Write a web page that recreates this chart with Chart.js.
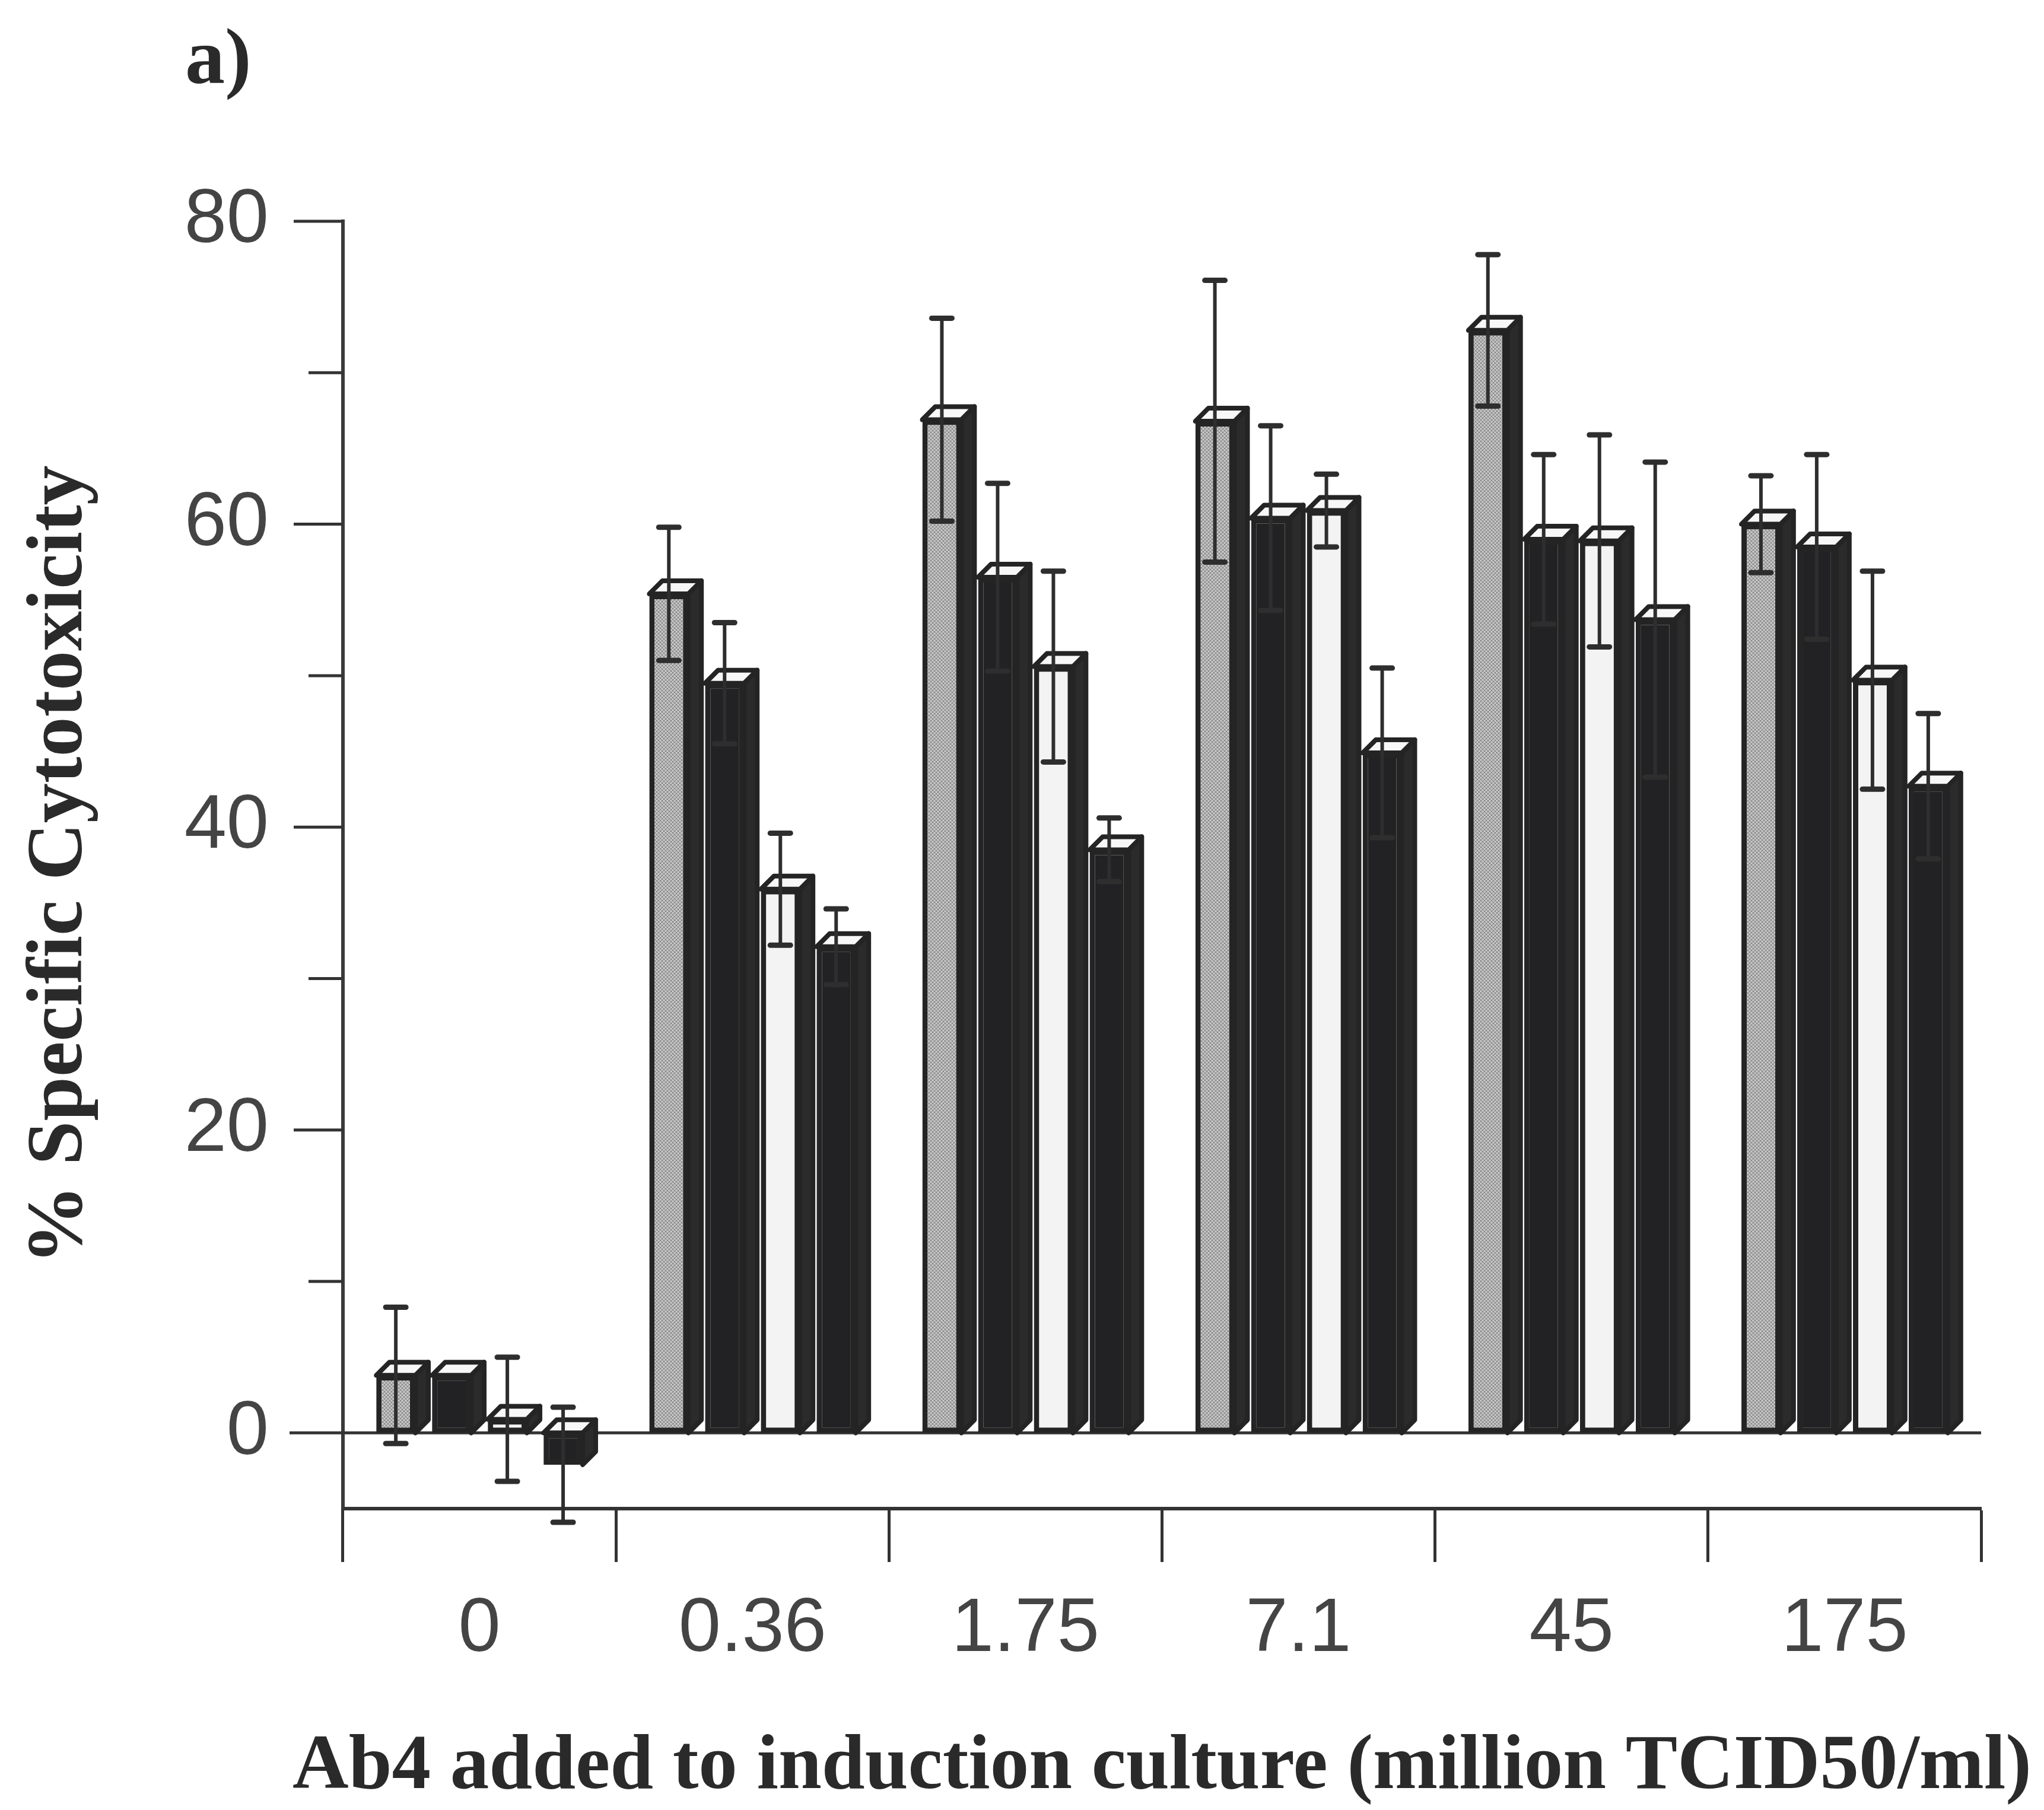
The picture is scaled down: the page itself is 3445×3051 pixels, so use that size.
<!DOCTYPE html>
<html>
<head>
<meta charset="utf-8">
<title>Specific cytotoxicity</title>
<script src="https://cdn.jsdelivr.net/npm/chart.js@4.4.0/dist/chart.umd.min.js"></script>
<style>
  html, body { margin: 0; padding: 0; background: #fff; }
  #wrap { width: 3445px; height: 3051px; position: relative; }
</style>
</head>
<body>
<div id="wrap"><canvas id="chart"></canvas></div>
<script>
// doses of Ab4 (million TCID50/ml)
const doses = ["0", "0.36", "1.75", "7.1", "45", "175"];

// % specific cytotoxicity, four effector groups per dose
const seriesA = [3.8, 55.4, 66.9, 66.8, 72.8, 60.0];
const seriesB = [3.8, 49.5, 56.5, 60.4, 59.0, 58.5];
const seriesC = [0.9, 35.9, 50.6, 60.9, 58.9, 49.7];
const seriesD = [-2.1, 32.1, 38.5, 44.9, 53.7, 42.7];

// error bar half-lengths
const errA = [4.5, 4.4, 6.7, 9.3, 5.0, 3.2];
const errB = [0, 4.0, 6.2, 6.1, 5.6, 6.1];
const errC = [4.1, 3.7, 6.3, 2.4, 7.0, 7.2];
const errD = [3.8, 2.5, 2.1, 5.6, 10.4, 4.8];

const yTickValues = [0, 10, 20, 30, 40, 50, 60, 70, 80];
const yLabelValues = [0, 20, 40, 60, 80];

const xTitle = "Ab4 added to induction culture (million TCID50/ml)";
const yTitle = "% Specific Cytotoxicity";

const INK = "#242424";
const DEPTH = 22;
const SERIF = "'Liberation Serif', 'Times New Roman', serif";

// grainy grey fill for the first series
function speckle() {
  const c = document.createElement("canvas");
  c.width = 6; c.height = 6;
  const g = c.getContext("2d");
  g.fillStyle = "#c4c4c4";
  g.fillRect(0, 0, 6, 6);
  g.fillStyle = "#808080";
  for (let i = 0; i < 6; i++) {
    g.fillRect(i, i, 1, 1);
    g.fillRect(5 - i, i, 1, 1);
  }
  return g.createPattern(c, "repeat");
}

function line(ctx, x1, y1, x2, y2) {
  ctx.beginPath();
  ctx.moveTo(x1, y1);
  ctx.lineTo(x2, y2);
  ctx.stroke();
}

// draws the bars as boxes (side + top face, then the library's own front face) and the error bars
const box3d = {
  id: "box3d",
  beforeDatasetsDraw(chart) {
    const ctx = chart.ctx;
    const ys = chart.scales.y;
    const area = chart.chartArea;
    ctx.save();

    // zero line behind the bars
    ctx.strokeStyle = "#333";
    ctx.lineWidth = 5;
    const y0 = ys.getPixelForValue(0);
    line(ctx, area.left - 90, y0, area.right, y0);

    ctx.lineJoin = "round";
    chart.data.datasets.forEach((ds, i) => {
      const meta = chart.getDatasetMeta(i);
      meta.data.forEach(bar => {
        const { x, y, base, width } = bar.getProps(["x", "y", "base", "width"], true);
        const l = x - width / 2, r = x + width / 2;
        const top = Math.min(y, base), bot = Math.max(y, base);
        ctx.lineWidth = 8;
        ctx.strokeStyle = INK;

        ctx.beginPath();
        ctx.moveTo(r, top);
        ctx.lineTo(r + DEPTH, top - DEPTH);
        ctx.lineTo(r + DEPTH, bot - DEPTH);
        ctx.lineTo(r, bot);
        ctx.closePath();
        ctx.fillStyle = "#2b2b2b";
        ctx.fill();
        ctx.stroke();

        ctx.beginPath();
        ctx.moveTo(l, top);
        ctx.lineTo(l + DEPTH, top - DEPTH);
        ctx.lineTo(r + DEPTH, top - DEPTH);
        ctx.lineTo(r, top);
        ctx.closePath();
        ctx.fillStyle = "#f7f7f7";
        ctx.fill();
        ctx.stroke();

        bar.draw(ctx);
      });
    });

    // error bars on top
    ctx.strokeStyle = "#2e2e2e";
    chart.data.datasets.forEach((ds, i) => {
      const meta = chart.getDatasetMeta(i);
      meta.data.forEach((bar, j) => {
        const e = ds.errors[j];
        if (!e) return;
        const v = ds.data[j];
        const hi = ys.getPixelForValue(v + e);
        const lo = ys.getPixelForValue(v - e);
        ctx.lineWidth = 6;
        line(ctx, bar.x, hi, bar.x, lo);
        ctx.lineWidth = 9;
        ctx.lineCap = "round";
        line(ctx, bar.x - 17, hi, bar.x + 17, hi);
        line(ctx, bar.x - 17, lo, bar.x + 17, lo);
        ctx.lineCap = "butt";
      });
    });

    ctx.restore();
    return false;
  },
  afterDraw(chart) {
    const ctx = chart.ctx;
    const ys = chart.scales.y;
    const area = chart.chartArea;
    ctx.save();
    ctx.strokeStyle = "#333";
    ctx.lineWidth = 5;
    ys.ticks.forEach(t => {
      if (t.value === 0) return;
      const py = ys.getPixelForValue(t.value);
      const len = yLabelValues.includes(t.value) ? 83 : 58;
      line(ctx, area.left - len, py, area.left, py);
    });

    ctx.fillStyle = "#2a2a2a";
    ctx.textBaseline = "alphabetic";
    ctx.font = "bold 134px " + SERIF;
    ctx.textAlign = "left";
    ctx.fillText("a)", 312, 140);

    // x title runs wider than the plot, so it is drawn here rather than by the scale
    ctx.font = "bold 131px " + SERIF;
    ctx.textAlign = "center";
    ctx.fillText(xTitle, (area.left + area.right) / 2, 3014);
    ctx.restore();
  }
};

const tickFont = { family: "'Liberation Sans', Arial, sans-serif", size: 128 };

new Chart(document.getElementById("chart"), {
  type: "bar",
  data: {
    labels: doses,
    datasets: [
      { data: seriesA, errors: errA, backgroundColor: speckle() },
      { data: seriesB, errors: errB, backgroundColor: "#222225" },
      { data: seriesC, errors: errC, backgroundColor: "#f3f3f3" },
      { data: seriesD, errors: errD, backgroundColor: "#222225" }
    ]
  },
  options: {
    responsive: true,
    maintainAspectRatio: false,
    animation: false,
    layout: { padding: { left: 0, top: 373, right: 106, bottom: 0 } },
    plugins: {
      legend: { display: false },
      tooltip: { enabled: false }
    },
    datasets: {
      bar: {
        categoryPercentage: 0.817,
        barPercentage: 0.70,
        borderWidth: 9,
        borderColor: INK,
        borderSkipped: false
      }
    },
    scales: {
      x: {
        afterFit: s => { s.height = 508; },
        grid: {
          offset: true,
          drawOnChartArea: false,
          drawTicks: true,
          tickLength: 90,
          tickWidth: 5,
          tickColor: "#333"
        },
        border: { color: "#333", width: 6 },
        ticks: { padding: 38, color: "#444", font: tickFont, maxRotation: 0, autoSkip: false }
      },
      y: {
        min: -5,
        max: 80,
        afterFit: s => { s.width = 578; },
        afterBuildTicks: s => { s.ticks = yTickValues.map(v => ({ value: v })); },
        grid: { display: false, drawTicks: false },
        border: { color: "#3a3a3a", width: 6 },
        ticks: {
          padding: 125,
          color: "#444",
          font: tickFont,
          callback: v => (yLabelValues.includes(v) ? String(v) : "")
        },
        title: {
          display: true,
          text: yTitle,
          color: "#2a2a2a",
          font: { family: SERIF, size: 134, weight: "bold" },
          padding: { top: 22, bottom: 0 }
        }
      }
    }
  },
  plugins: [box3d]
});
</script>
</body>
</html>
